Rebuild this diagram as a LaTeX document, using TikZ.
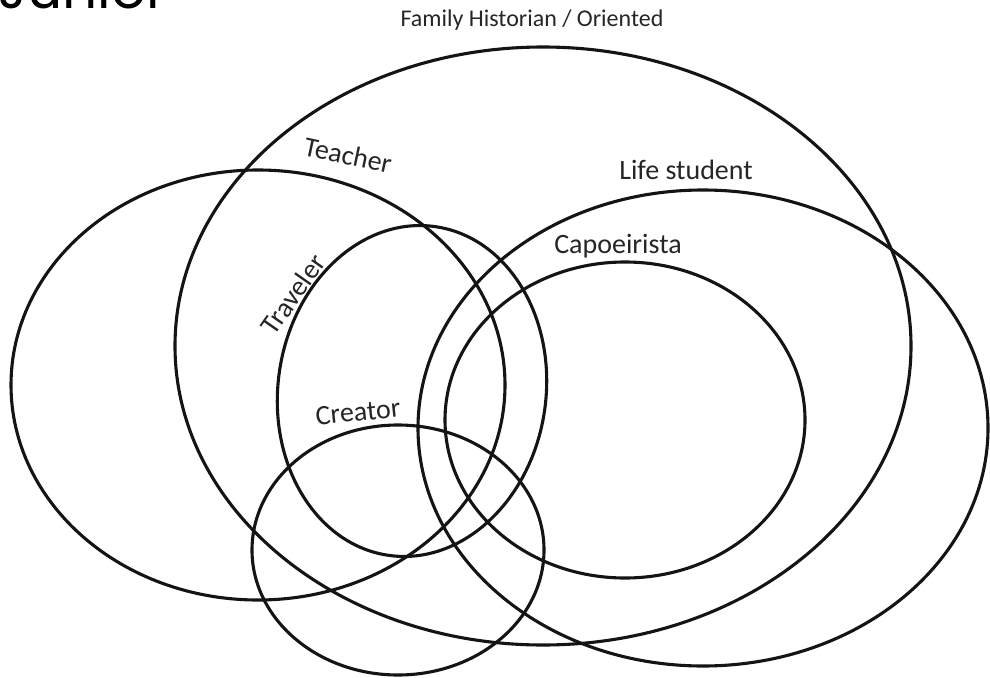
\documentclass[tikz,border=0pt]{standalone}
\usepackage{fontspec}
\setmainfont{Carlito}
\newfontfamily\titlefont{Poppins}
\begin{document}
\begin{tikzpicture}[x=1pt,y=-1pt,
  ring/.style={draw=black!92, line width=3.1pt},
  lbl/.style={font=\fontsize{28}{30}\selectfont, text=black!85, inner sep=0pt}]
\useasboundingbox (0,0) rectangle (990,677);
\fill[white] (0,0) rectangle (990,677);

% heading, partly above the page edge
\node[anchor=base west, inner sep=0pt, font=\titlefont\fontsize{55}{58}\selectfont] (title) at (-2,9) {Junior};

% the six sets
\draw[ring] (543,346) ellipse [x radius=368, y radius=299];
\draw[ring] (258,385) ellipse [x radius=247, y radius=215];
\draw[ring, rotate around={-8:(412,391)}] (412,391) ellipse [x radius=134, y radius=166];
\draw[ring] (703,428) ellipse [x radius=285, y radius=238];
\draw[ring] (625,420) ellipse [x radius=180, y radius=158];
\draw[ring] (398,550) ellipse [x radius=146, y radius=125];

% set labels
\node[lbl, font=\fontsize{24}{26}\selectfont] (family) at (532,20) {Family Historian / Oriented};
\node[lbl, rotate=-12] (teacher) at (348,155) {Teacher};
\node[lbl] (life) at (686,170) {Life student};
\node[lbl] (capo) at (618,246) {Capoeirista};
\node[lbl, rotate=55] (traveler) at (293,294) {Traveler};
\node[lbl, rotate=6] (creator) at (358,412) {Creator};
\end{tikzpicture}
\end{document}
